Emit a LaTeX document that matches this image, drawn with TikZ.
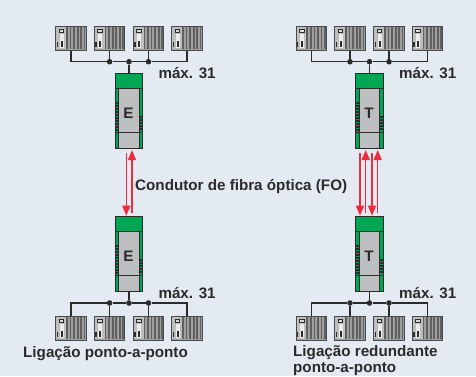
\documentclass[tikz,border=0pt]{standalone}
\usepackage{fontspec}
\setmainfont{Liberation Sans}
\usetikzlibrary{arrows.meta}
\definecolor{bgc}{HTML}{E3EAF1}
\definecolor{ink}{HTML}{2B2B2B}
\definecolor{grn}{HTML}{00A651}
\definecolor{gry}{HTML}{BDBEC0}
\definecolor{redl}{HTML}{EE2A3C}
\tikzset{x=1pt,y=-1pt,
  lbl/.style={font=\bfseries\fontsize{15.2}{15.5}\selectfont,text=ink,inner sep=0pt,anchor=base west,align=left},
  rackbox/.style={draw=ink!85,line width=1pt,fill=gray!75,minimum width=30.5pt,minimum height=24pt,inner sep=0pt},
  devbox/.style={draw=ink,line width=1.1pt,fill=grn,minimum width=27.5pt,minimum height=75pt,inner sep=0pt},
  junction/.style={circle,fill=ink,inner sep=0pt,minimum size=5.6pt},
  bus/.style={draw=ink,line width=1.3pt},
  fibre/.style={draw=redl,line width=1.2pt,-{Triangle[width=8pt,length=10pt]}}
}
% rack: name, cx, cy
\newcommand{\Rack}[3]{%
  \node[rackbox] (#1) at (#2,#3) {};
  \begin{scope}[shift={(#2,#3)}]
    \fill[gry] (-14.7,-11.4) rectangle (-5,11.4);
    \fill[gray!30] (-12,-9) rectangle (-7.5,-6);
    \draw[ink,line width=.6pt] (-12,-9) rectangle (-7.5,-6);
    \fill[gray!15] (-11.5,-4) rectangle (-7.5,10);
    \fill[ink] (-10.5,2.5) rectangle (-8.5,8.5);
    \fill[ink] (-14.2,4) rectangle (-13,9);
    \foreach \s in {-5,-1.4,2.2,5.8,9.4,12.6}
      \fill[ink!75] (\s,-11.4) rectangle (\s+1.7,11.4);
  \end{scope}}
% device: name, letter, cx, top y
\newcommand{\Dev}[4]{%
  \node[devbox] (#1) at (#3,#4+37.5) {};
  \begin{scope}[shift={(#3,#4)}]
    \fill[gry] (-10.3,14.5) rectangle (10.3,74.4);
    \draw[ink,line width=1pt] (-13.7,14.5) -- (13.7,14.5);
    \draw[ink,line width=.8pt] (-10.3,14.5) -- (-10.3,75);
    \draw[ink,line width=.8pt] (10.3,14.5) -- (10.3,75);
    \draw[ink,line width=.8pt] (-13.7,59) -- (13.7,59);
    \foreach \yy in {28,31,34,37,40,43,46,49,52,55}
      \fill[ink] (-13.2,\yy) rectangle (-10.8,\yy+2);
    \foreach \yy in {42,45,48,51,54}
      \fill[ink] (10.8,\yy) rectangle (13.2,\yy+2);
    \node[font=\bfseries\fontsize{15.2}{16}\selectfont,text=ink,inner sep=0pt] (#1L) at (-.5,40) {#2};
  \end{scope}}
\begin{document}
\begin{tikzpicture}
\useasboundingbox (0,0) rectangle (476,376);
\fill[bgc] (0,0) rectangle (476,376);
% top left
\Rack{a1}{71}{38}\Rack{a2}{109.6}{38}\Rack{a3}{148.5}{38}\Rack{a4}{187}{38}
\Dev{d1}{E}{129}{73.5}
\node[junction] (ja2) at (109.6,61.7) {};
\node[junction] (ja3) at (129,61.7) {};
\node[junction] (ja4) at (148.5,61.7) {};
\draw[bus] (a1.south) |- (ja2) -- (ja3) -- (ja4) -| (a4.south);
\draw[bus] (a2.south) -- (ja2);
\draw[bus] (a3.south) -- (ja4);
\draw[bus] (ja3) -- (d1.north);
\node[lbl] (m1) at (158.3,78.3) {máx. 31};
% bottom left
\Dev{d2}{E}{129}{216.7}
\Rack{b1}{71}{328}\Rack{b2}{109.6}{328}\Rack{b3}{148.5}{328}\Rack{b4}{187}{328}
\node[junction] (jb2) at (109.6,303) {};
\node[junction] (jb3) at (129,303) {};
\node[junction] (jb4) at (148.5,303) {};
\draw[bus] (b1.north) |- (jb2) -- (jb3) -- (jb4) -| (b4.north);
\draw[bus] (b2.north) -- (jb2);
\draw[bus] (b3.north) -- (jb4);
\draw[bus] (jb3) -- (d2.south);
\node[lbl] (m2) at (158.3,298.3) {máx. 31};
\node[lbl] (cap1) at (23,357) {Ligação ponto-a-ponto};
% top right
\Rack{c1}{311.3}{38}\Rack{c2}{350}{38}\Rack{c3}{389}{38}\Rack{c4}{427.6}{38}
\Dev{d3}{T}{369.5}{73.5}
\node[junction] (jc2) at (350,61.7) {};
\node[junction] (jc3) at (369.5,61.7) {};
\node[junction] (jc4) at (389,61.7) {};
\draw[bus] (c1.south) |- (jc2) -- (jc3) -- (jc4) -| (c4.south);
\draw[bus] (c2.south) -- (jc2);
\draw[bus] (c3.south) -- (jc4);
\draw[bus] (jc3) -- (d3.north);
\node[lbl] (m3) at (399,78.3) {máx. 31};
% bottom right
\Dev{d4}{T}{369.5}{216.7}
\Rack{e1}{311.3}{328}\Rack{e2}{350}{328}\Rack{e3}{389}{328}\Rack{e4}{427.6}{328}
\node[junction] (je2) at (350,303) {};
\node[junction] (je3) at (369.5,303) {};
\node[junction] (je4) at (389,303) {};
\draw[bus] (e1.north) |- (je2) -- (je3) -- (je4) -| (e4.north);
\draw[bus] (e2.north) -- (je2);
\draw[bus] (e3.north) -- (je4);
\draw[bus] (je3) -- (d4.south);
\node[lbl] (m4) at (399,298.3) {máx. 31};
\node[lbl] (cap2) at (293,372) {Ligação redundante\\ponto-a-ponto};
% fibre
\coordinate (f1t) at (126.3,153.3); \coordinate (f1b) at (126.3,215.7);
\coordinate (f2t) at (132,150); \coordinate (f2b) at (132,213.3);
\draw[fibre] (f1t) -- (f1b);
\draw[fibre] (f2b) -- (f2t);
\coordinate (f3t) at (360,153.3); \coordinate (f3b) at (360,215.7);
\coordinate (f4t) at (365.7,150); \coordinate (f4b) at (365.7,213.3);
\coordinate (f5t) at (372,153.3); \coordinate (f5b) at (372,215.7);
\coordinate (f6t) at (377.7,150); \coordinate (f6b) at (377.7,213.3);
\draw[fibre] (f3t) -- (f3b);
\draw[fibre] (f4b) -- (f4t);
\draw[fibre] (f5t) -- (f5b);
\draw[fibre] (f6b) -- (f6t);
\node[lbl] (fo) at (135,190) {Condutor de fibra óptica (FO)};
\end{tikzpicture}
\end{document}
